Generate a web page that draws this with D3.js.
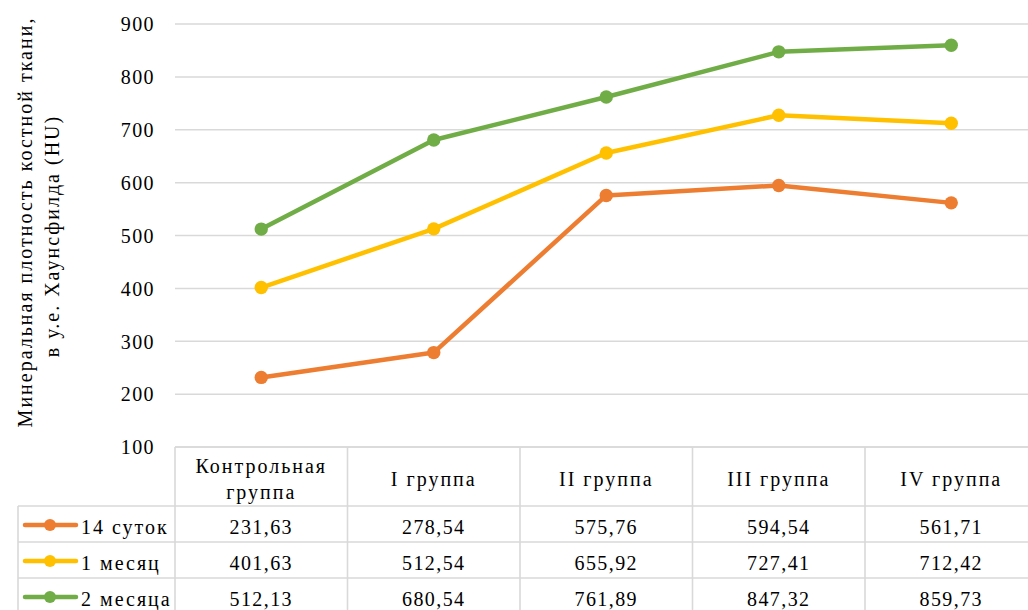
<!DOCTYPE html>
<html>
<head>
<meta charset="utf-8">
<script src="https://cdn.jsdelivr.net/npm/d3@7"></script>
<style>
  html, body { margin: 0; padding: 0; background: #fff; }
  svg { display: block; }
</style>
</head>
<body>
<svg id="chart" width="1028" height="610" font-family="Liberation Serif"></svg>
<script>
// Groups along the horizontal axis
const categories = ["Контрольная группа", "I группа", "II группа", "III группа", "IV группа"];
// Header lines as they are wrapped in the data table
const categoryLines = [["Контрольная", "группа"], ["I группа"], ["II группа"], ["III группа"], ["IV группа"]];

// Series names and values (HU)
const seriesNames = ["14 суток", "1 месяц", "2 месяца"];
const values14d = [231.63, 278.54, 575.76, 594.54, 561.71];
const values1m = [401.63, 512.54, 655.92, 727.41, 712.42];
const values2m = [512.13, 680.54, 761.89, 847.32, 859.73];
const seriesColors = ["#ED7D31", "#FFC000", "#70AD47"];

const yTicks = [100, 200, 300, 400, 500, 600, 700, 800, 900];
const yTitle = ["Минеральная плотность  костной ткани,", "в у.е. Хаунсфилда (HU)"];

const series = seriesNames.map((name, i) => ({
  name,
  color: seriesColors[i],
  values: [values14d, values1m, values2m][i]
}));

const svg = d3.select("#chart");
const FONT = "Liberation Serif";
const gridColor = "#D9D9D9";
const fontSize = 20;
const numSpacing = 1.4;   // letter spacing for numbers
const txtSpacing = 2.0;   // letter spacing for words

const plotLeft = 175, plotRight = 1037.5, plotTop = 24, plotBottom = 447;

const x = d3.scaleBand().domain(categories).range([plotLeft, plotRight]).padding(0);
const y = d3.scaleLinear().domain([100, 900]).range([plotBottom, plotTop]);
const cx = c => x(c) + x.bandwidth() / 2;

const label = (g, spacing) => g.append("text")
  .attr("font-family", FONT)
  .attr("font-size", fontSize)
  .attr("letter-spacing", spacing)
  .attr("fill", "#000");

// Horizontal gridlines
svg.append("g")
  .selectAll("line")
  .data(yTicks)
  .join("line")
  .attr("x1", plotLeft).attr("x2", plotRight)
  .attr("y1", d => y(d)).attr("y2", d => y(d))
  .attr("stroke", gridColor).attr("stroke-width", 1.5);

// Y axis tick labels
const yAxis = d3.axisLeft(y).tickValues(yTicks).tickSize(0).tickPadding(0);
const yG = svg.append("g").attr("transform", "translate(155,0)").call(yAxis);
yG.attr("font-family", FONT);
yG.select(".domain").remove();
yG.selectAll("text")
  .attr("font-family", FONT)
  .attr("font-size", fontSize)
  .attr("letter-spacing", numSpacing)
  .attr("fill", "#000")
  .attr("dy", "0.34em");

// Y axis title (two lines, rotated)
const titleCenters = [222, 236];
const titleBaselines = [32, 59];
yTitle.forEach((t, i) => {
  label(svg, txtSpacing)
    .attr("transform", `translate(${titleBaselines[i]},${titleCenters[i]}) rotate(-90)`)
    .attr("text-anchor", "middle")
    .text(t);
});

// Series lines and markers
const line = d3.line()
  .x((d, i) => cx(categories[i]))
  .y(d => y(d));

const sG = svg.append("g");
series.forEach(s => {
  sG.append("path")
    .datum(s.values)
    .attr("d", line)
    .attr("fill", "none")
    .attr("stroke", s.color)
    .attr("stroke-width", 4.5)
    .attr("stroke-linejoin", "round")
    .attr("stroke-linecap", "round");
  sG.selectAll(null)
    .data(s.values)
    .join("circle")
    .attr("cx", (d, i) => cx(categories[i]))
    .attr("cy", d => y(d))
    .attr("r", 6.7)
    .attr("fill", s.color);
});

// Data table under the plot
const headerBottom = 506;
const rowH = 36;
const legendLeft = 18;
const tableRight = plotRight;
const tG = svg.append("g");
const border = (x1, y1, x2, y2) => tG.append("line")
  .attr("x1", x1).attr("y1", y1).attr("x2", x2).attr("y2", y2)
  .attr("stroke", gridColor).attr("stroke-width", 1.6);

border(plotLeft, plotBottom, tableRight, plotBottom);
categories.forEach(c => border(x(c), plotBottom, x(c), 612));
border(tableRight, plotBottom, tableRight, 612);
border(legendLeft, headerBottom, legendLeft, 612);
series.forEach((s, i) => border(legendLeft, headerBottom + i * rowH, tableRight, headerBottom + i * rowH));

// header labels
categoryLines.forEach((lines, i) => {
  const base = lines.length === 1 ? 486 : 473;
  lines.forEach((l, j) => {
    label(tG, txtSpacing)
      .attr("x", cx(categories[i]))
      .attr("y", base + j * 26)
      .attr("text-anchor", "middle")
      .text(l);
  });
});

// comma decimal formatting
const ru = d3.formatLocale({ decimal: ",", thousands: " ", grouping: [3], currency: ["", ""] });
const fmt = ru.format(".2f");

series.forEach((s, i) => {
  const rowTop = headerBottom + i * rowH;
  const keyY = rowTop + rowH / 2 + 1;
  const baseline = rowTop + 28;
  // legend key
  tG.append("line")
    .attr("x1", 25).attr("x2", 76)
    .attr("y1", keyY).attr("y2", keyY)
    .attr("stroke", s.color).attr("stroke-width", 4.5)
    .attr("stroke-linecap", "round");
  tG.append("circle").attr("cx", 50).attr("cy", keyY).attr("r", 6).attr("fill", s.color);
  label(tG, txtSpacing)
    .attr("x", 81).attr("y", baseline)
    .text(s.name);
  s.values.forEach((v, j) => {
    label(tG, numSpacing)
      .attr("x", cx(categories[j])).attr("y", baseline)
      .attr("text-anchor", "middle")
      .text(fmt(v));
  });
});
</script>
</body>
</html>
